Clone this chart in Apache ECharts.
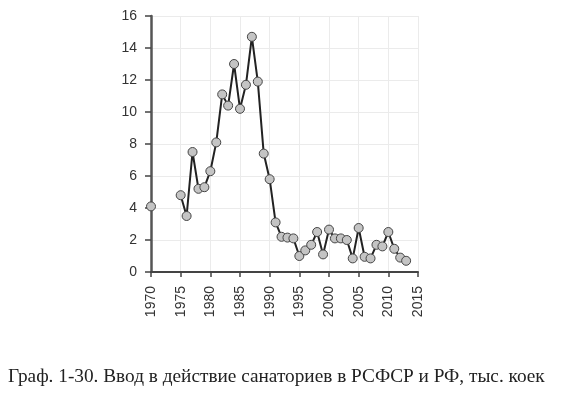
<!DOCTYPE html>
<html>
<head>
<meta charset="utf-8">
<script src="https://cdn.jsdelivr.net/npm/echarts@6/dist/echarts.min.js"></script>
<style>
  html, body { margin: 0; padding: 0; background: #fff; }
  #chart { width: 564px; height: 398px; }
</style>
</head>
<body>
<div id="chart"></div>
<script>
// годы и ввод санаториев, тыс. коек (1971-1974 нет данных)
const years = [1970, 1971, 1972, 1973, 1974, 1975, 1976, 1977, 1978, 1979,
  1980, 1981, 1982, 1983, 1984, 1985, 1986, 1987, 1988, 1989,
  1990, 1991, 1992, 1993, 1994, 1995, 1996, 1997, 1998, 1999,
  2000, 2001, 2002, 2003, 2004, 2005, 2006, 2007, 2008, 2009,
  2010, 2011, 2012, 2013];
const beds = [4.1, null, null, null, null, 4.8, 3.5, 7.5, 5.2, 5.3,
  6.3, 8.1, 11.1, 10.4, 13.0, 10.2, 11.7, 14.7, 11.9, 7.4,
  5.8, 3.1, 2.2, 2.15, 2.1, 1.0, 1.35, 1.7, 2.5, 1.1,
  2.65, 2.1, 2.1, 2.0, 0.85, 2.75, 0.95, 0.85, 1.7, 1.6,
  2.5, 1.45, 0.9, 0.7];
const caption = 'Граф. 1-30. Ввод в действие санаториев в РСФСР и РФ, тыс. коек';

const chart = echarts.init(document.getElementById('chart'));
const option = {
  animation: false,
  grid: { left: 151, top: 16, width: 267, height: 256, containLabel: false },
  title: {
    text: caption,
    left: 8,
    top: 367,
    padding: 0,
    textStyle: {
      fontFamily: 'Liberation Serif',
      fontWeight: 'normal',
      fontSize: 19.3,
      color: '#222'
    }
  },
  xAxis: {
    type: 'value',
    min: 1970,
    max: 2015,
    interval: 5,
    axisLine: { show: true, onZero: false, lineStyle: { color: '#444', width: 2 } },
    axisTick: { show: true, length: 5, lineStyle: { color: '#444', width: 1.5 } },
    axisLabel: {
      rotate: 90,
      margin: 14,
      fontFamily: 'Liberation Sans',
      fontSize: 14,
      color: '#333',
      formatter: v => String(v)
    },
    splitLine: { show: true, lineStyle: { color: '#ebebeb', width: 1 } }
  },
  yAxis: {
    type: 'value',
    min: 0,
    max: 16,
    interval: 2,
    axisLine: { show: true, lineStyle: { color: '#555', width: 2.5 } },
    axisTick: { show: true, length: 6, lineStyle: { color: '#444', width: 1.5 } },
    axisLabel: {
      margin: 14,
      fontFamily: 'Liberation Sans',
      fontSize: 14,
      color: '#333'
    },
    splitLine: { show: true, lineStyle: { color: '#ebebeb', width: 1 } }
  },
  series: [{
    type: 'line',
    data: years.map((y, i) => [y, beds[i]]),
    connectNulls: false,
    symbol: 'circle',
    symbolSize: 9,
    lineStyle: { color: '#222', width: 2 },
    itemStyle: { color: '#c4c4c4', borderColor: '#444', borderWidth: 1 }
  }]
};
chart.setOption(option);
</script>
</body>
</html>
